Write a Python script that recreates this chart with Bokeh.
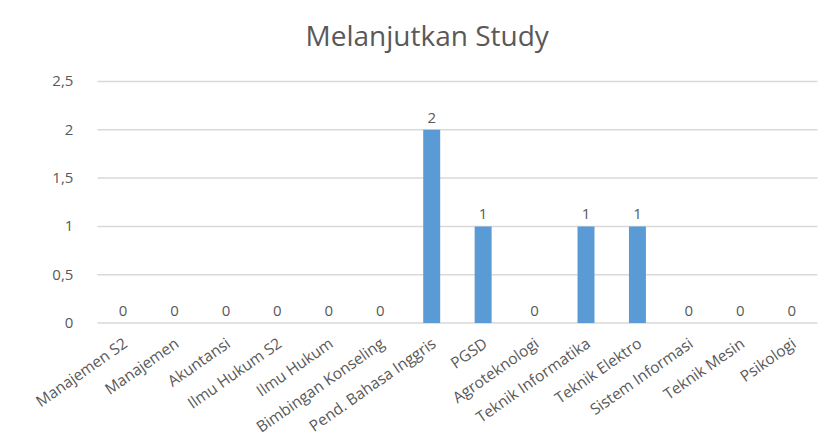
import math
from bokeh.plotting import figure
from bokeh.models import Range1d, ColumnDataSource
from bokeh.core.properties import value
from bokeh.embed import file_html
from bokeh.resources import INLINE

categories = ["Manajemen S2", "Manajemen", "Akuntansi", "Ilmu Hukum S2", "Ilmu Hukum",
              "Bimbingan Konseling", "Pend. Bahasa Inggris", "PGSD", "Agroteknologi",
              "Teknik Informatika", "Teknik Elektro", "Sistem Informasi", "Teknik Mesin",
              "Psikologi"]
values = [0, 0, 0, 0, 0, 0, 2, 1, 0, 1, 1, 0, 0, 0]
y_ticks = [0, 0.5, 1, 1.5, 2, 2.5]
title_text = "Melanjutkan Study"

FONT = "Open Sans"
TXT = "#595959"

n = len(categories)
xs = list(range(n))
src = ColumnDataSource(dict(x=xs, cat=categories, val=values,
                            lab=[str(v) for v in values], base=[0] * n))
tick_src = ColumnDataSource(dict(
    y=y_ticks,
    lab=[str(t).replace(".", ",") if t != int(t) else str(int(t)) for t in y_ticks],
    x0=[-0.5] * len(y_ticks),
    x1=[n - 0.5] * len(y_ticks),
))

# frame spans the whole canvas; category slots are placed by the x scale
p = figure(x_range=Range1d(-2.384, n - 0.5 + 0.04), y_range=Range1d(-1.215, 2.717),
           width=819, height=440, output_backend="svg", toolbar_location=None,
           min_border_left=0, min_border_right=0, min_border_top=60, min_border_bottom=0)

p.title.text = title_text
p.title.align = "left"
p.title.offset = 305
p.title.text_font = FONT
p.title.text_font_size = "28px"
p.title.text_font_style = "normal"
p.title.text_color = TXT
p.title.standoff = 13

# value gridlines
p.segment(x0="x0", x1="x1", y0="y", y1="y", source=tick_src,
          line_color="#D9D9D9", line_width=1.5)
# value tick labels
p.text(x="x0", y="y", text="lab", source=tick_src, x_offset=-24, text_align="right",
       text_baseline="middle", text_font=value(FONT), text_font_size="15px", text_color=TXT)

p.vbar(x="x", top="val", width=0.33, source=src, color="#5B9BD5", line_color=None)
p.text(x="x", y="val", text="lab", source=src, y_offset=-12, text_align="center",
       text_baseline="alphabetic", text_font=value(FONT), text_font_size="15px", text_color=TXT)
p.text(x="x", y="base", text="cat", source=src, angle=math.radians(35),
       text_align="right", text_baseline="middle", x_offset=2, y_offset=18,
       text_font=value(FONT), text_font_size="15.5px", text_color=TXT)

p.outline_line_color = None
p.xgrid.grid_line_color = None
p.ygrid.grid_line_color = None
p.xaxis.visible = False
p.yaxis.visible = False

open("out.html", "w").write(file_html(p, INLINE))
